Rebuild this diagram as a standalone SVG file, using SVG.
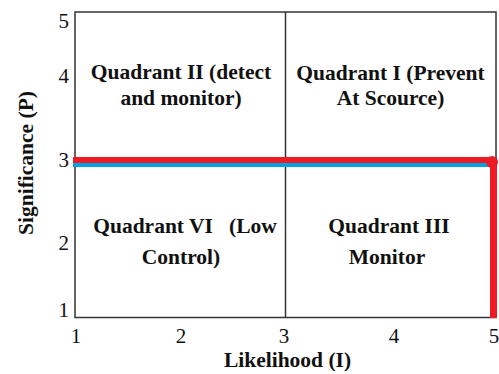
<svg xmlns="http://www.w3.org/2000/svg" width="499" height="374" viewBox="0 0 499 374">
<style>
.q{font-family:"Liberation Serif","Times New Roman",serif;font-weight:bold;font-size:21.5px;fill:#111;text-anchor:middle;white-space:pre}
.t{font-family:"Liberation Serif","Times New Roman",serif;font-size:21px;fill:#111}
.ax{font-family:"Liberation Serif","Times New Roman",serif;font-weight:bold;font-size:21.5px;fill:#111;text-anchor:middle}
.frame{fill:none;stroke:#333;stroke-width:1.5}
</style>
<rect width="499" height="374" fill="#fff"/>
<g id="frame">
<rect class="frame" x="75" y="12" width="421" height="305.5"/>
<line class="frame" x1="285.5" y1="12" x2="285.5" y2="317.5"/>
</g>
<g id="quadrant-II"><text class="q" x="181" y="79">Quadrant II (detect</text><text class="q" x="181" y="105">and monitor)</text></g>
<g id="quadrant-I"><text class="q" x="390.5" y="80">Quadrant I (Prevent</text><text class="q" x="390.5" y="105">At Scource)</text></g>
<g id="quadrant-VI"><text class="q" x="185" y="233" xml:space="preserve">Quadrant VI   (Low</text><text class="q" x="181" y="264">Control)</text></g>
<g id="quadrant-III"><text class="q" x="389" y="233">Quadrant III</text><text class="q" x="387" y="264">Monitor</text></g>
<g id="connectors">
<line x1="73" y1="165" x2="492" y2="165" stroke="#00A2E8" stroke-width="4"/>
<line x1="73" y1="160" x2="492" y2="160" stroke="#ED1C24" stroke-width="6"/>
<line x1="493.5" y1="161" x2="493.5" y2="318" stroke="#ED1C24" stroke-width="7"/>
<circle cx="492" cy="162" r="6" fill="#ED1C24"/>
</g>
<g id="y-ticks" text-anchor="end">
<text class="t" x="69" y="28">5</text>
<text class="t" x="69" y="83">4</text>
<text class="t" x="69" y="167">3</text>
<text class="t" x="69" y="250">2</text>
<text class="t" x="69" y="317">1</text>
</g>
<g id="x-ticks" text-anchor="middle">
<text class="t" x="76" y="343">1</text>
<text class="t" x="181" y="343">2</text>
<text class="t" x="284" y="343">3</text>
<text class="t" x="394" y="343">4</text>
<text class="t" x="494" y="343">5</text>
</g>
<g id="axis-labels">
<text class="ax" x="287.5" y="367">Likelihood (I)</text>
<text class="ax" transform="translate(32.5,163) rotate(-90)" x="0" y="0">Significance (P)</text>
</g>
</svg>
